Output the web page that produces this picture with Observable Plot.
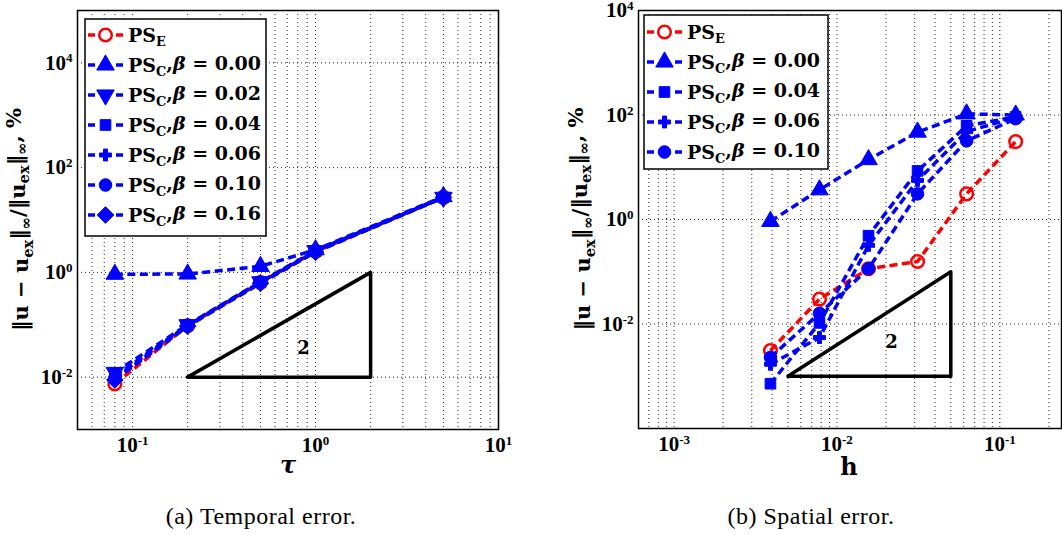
<!DOCTYPE html>
<html><head><meta charset="utf-8">
<script src="https://cdn.jsdelivr.net/npm/d3@7"></script>
<script src="https://cdn.jsdelivr.net/npm/@observablehq/plot@0.6"></script>
<style>
body{margin:0;background:#fff;}
#wrap{position:relative;width:1062px;height:534px;overflow:hidden;background:#fff;}
.panel{position:absolute;top:0;}
.cap{position:absolute;font-family:"Liberation Serif",serif;font-size:24px;letter-spacing:0.5px;text-align:center;width:400px;line-height:24px;color:#000;}
</style></head><body>
<div id="wrap">
  <div class="panel" id="pa" style="left:0px"></div>
  <div class="panel" id="pb" style="left:530px"></div>
  <div class="cap" style="left:61px;top:504px">(a) Temporal error.</div>
  <div class="cap" style="left:611px;top:504px">(b) Spatial error.</div>
</div>
<script>
// ---------- data: panel (a) temporal error ----------
const tau      = [0.08, 0.2, 0.5, 1, 5];
const tPSE     = [0.0074, 0.096, 0.64, 2.5, 27];
const tB000    = [0.92, 0.93, 1.3, 2.7, 28];
const tB002    = [0.0123, 0.10, 0.66, 2.6, 27];
const tB004    = [0.0105, 0.098, 0.65, 2.55, 27];
const tB006    = [0.0098, 0.097, 0.64, 2.5, 27];
const tB010    = [0.0092, 0.095, 0.63, 2.5, 27];
const tB016    = [0.0088, 0.094, 0.62, 2.45, 27];
const betasA   = ["0.00", "0.02", "0.04", "0.06", "0.10", "0.16"];
const triA_x   = [0.2, 2, 2, 0.2];
const triA_y   = [0.01, 0.01, 1, 0.01];
const slopeA   = [{x: 0.86, y: 0.035, t: "2"}];

// ---------- data: panel (b) spatial error ----------
const hh       = [0.00390625, 0.0078125, 0.015625, 0.03125, 0.0625, 0.125];
const hPSE     = [0.0031, 0.030, 0.114, 0.157, 3.1, 31];
const hB000    = [0.92, 3.7, 14, 47, 105, 100];
const hB004    = [0.00072, 0.0105, 0.49, 8.5, 62, 92];
const hB006    = [0.0017, 0.0055, 0.32, 5.6, 48, 90];
const hB010    = [0.0023, 0.016, 0.114, 3.1, 32, 85];
const betasB   = ["0.00", "0.04", "0.06", "0.10"];
const triB_x   = [0.005, 0.05, 0.05, 0.005];
const triB_y   = [0.001, 0.001, 0.1, 0.001];
const slopeB   = [{x: 0.0216, y: 0.0045, t: "2"}];

// ---------- ticks / grid ----------
const xTicksA = [0.1, 1, 10];
const xGridA  = [0.06,0.07,0.08,0.09,0.1,0.2,0.3,0.4,0.5,0.6,0.7,0.8,0.9,1,2,3,4,5,6,7,8,9];
const yTicksA = [0.01, 1, 100, 10000];
const xTicksB = [0.001, 0.01, 0.1];
const xGridB  = [0.0007,0.0008,0.0009,0.001,0.002,0.003,0.004,0.005,0.006,0.007,0.008,0.009,0.01,0.02,0.03,0.04,0.05,0.06,0.07,0.08,0.09,0.1,0.2];
const yTicksB = [0.01, 1, 100, 10000];

// ---------- styles ----------
const BLUE = "#0000ff", RED = "#ff0000";
const triDown = {draw(ctx, size){
  const p = {moveTo:(x,y)=>ctx.moveTo(x,-y), lineTo:(x,y)=>ctx.lineTo(x,-y), closePath:()=>ctx.closePath()};
  d3.symbolTriangle.draw(p, size);
}};
const ST = {
  pse:  {color: RED,  symbol: d3.symbolCircle,   fill: "none", r: 6.3, sw: 2.5},
  b000: {color: BLUE, symbol: d3.symbolTriangle, fill: BLUE, r: 6.5, sw: 1},
  b002: {color: BLUE, symbol: triDown,           fill: BLUE, r: 6.5, sw: 1},
  b004: {color: BLUE, symbol: d3.symbolSquare,   fill: BLUE, r: 6.0, sw: 1},
  b006: {color: BLUE, symbol: d3.symbolCross,    fill: BLUE, r: 5.0, sw: 1},
  b010: {color: BLUE, symbol: d3.symbolCircle,   fill: BLUE, r: 6.3, sw: 1},
  b016: {color: BLUE, symbol: d3.symbolDiamond2, fill: BLUE, r: 7.5, sw: 1}
};

const seriesA = [
  {ys: tPSE, st: ST.pse,  sub: "E"},
  {ys: tB000, st: ST.b000, sub: "C", beta: betasA[0]},
  {ys: tB002, st: ST.b002, sub: "C", beta: betasA[1]},
  {ys: tB004, st: ST.b004, sub: "C", beta: betasA[2]},
  {ys: tB006, st: ST.b006, sub: "C", beta: betasA[3]},
  {ys: tB010, st: ST.b010, sub: "C", beta: betasA[4]},
  {ys: tB016, st: ST.b016, sub: "C", beta: betasA[5]}
];
const seriesB = [
  {ys: hPSE, st: ST.pse,  sub: "E"},
  {ys: hB000, st: ST.b000, sub: "C", beta: betasB[0]},
  {ys: hB004, st: ST.b004, sub: "C", beta: betasB[1]},
  {ys: hB006, st: ST.b006, sub: "C", beta: betasB[2]},
  {ys: hB010, st: ST.b010, sub: "C", beta: betasB[3]}
];

const fmt = d => "10^" + Math.round(Math.log10(d));
const gridStyle = {stroke: "#000", strokeDasharray: "1,3", strokeWidth: 1, strokeOpacity: 0.85};

function seriesMarks(xs, series){
  const out = [];
  for (const s of series){
    const pts = xs.map((x,i)=>({x, y: s.ys[i]}));
    out.push(Plot.line(pts, {x:"x", y:"y", stroke: s.st.color, strokeWidth: 3.5, strokeDasharray: "8,4.5", strokeLinecap: "butt"}));
    out.push(Plot.dot(pts, {x:"x", y:"y", symbol: s.st.symbol, r: s.st.r, fill: s.st.fill, stroke: s.st.color, strokeWidth: s.st.sw}));
  }
  return out;
}

function supTicks(svg){
  d3.select(svg).selectAll('g[aria-label$="tick label"] text').each(function(){
    const m = /^10\^(-?\d+)$/.exec(this.textContent);
    if (!m) return;
    const t = d3.select(this)
      .style("font-size", "21px").style("font-family", "'Liberation Serif', serif").style("font-weight", "bold");
    t.text(null);
    t.append("tspan").text("10");
    t.append("tspan").attr("dy","-0.55em").style("font-size","13px").text(m[1]);
  });
}

function legend(svg, x0, y0, w, hgt, row0, series){
  const g = d3.select(svg).append("g").attr("text-anchor","start");
  g.append("rect").attr("x",x0).attr("y",y0).attr("width",w).attr("height",hgt)
    .attr("fill","white").attr("stroke","black").attr("stroke-width",1.5);
  series.forEach((s,i)=>{
    const y = row0 + i*30;
    for (const [a,b] of [[3,10],[31,38]])
      g.append("line").attr("x1",x0+a).attr("x2",x0+b).attr("y1",y).attr("y2",y)
        .attr("stroke",s.st.color).attr("stroke-width",3.5);
    g.append("path").attr("transform",`translate(${x0+20.5},${y})`)
      .attr("d", d3.symbol(s.st.symbol, s.st.r*s.st.r*Math.PI)())
      .attr("fill", s.st.fill).attr("stroke", s.st.color).attr("stroke-width", s.st.sw);
    const t = g.append("text").attr("x",x0+43).attr("y",y).attr("dy","0.36em").attr("text-anchor","start")
      .attr("font-family","DejaVu Serif, serif").attr("font-weight","bold").attr("font-size","19px").attr("fill","black");
    t.append("tspan").text("PS");
    t.append("tspan").attr("dy","0.3em").attr("font-size","0.68em").text(s.sub);
    if (s.beta){
      t.append("tspan").attr("dy","-0.3em").text(",");
      t.append("tspan").attr("font-style","italic").text("β");
      t.append("tspan").text(" = " + s.beta);
    }
  });
}

function ylabel(svg, cx, cy){
  const t = d3.select(svg).append("text")
    .attr("transform",`translate(${cx},${cy}) rotate(-90)`).attr("text-anchor","middle").attr("dy","0.35em")
    .attr("font-family","DejaVu Serif, serif").attr("font-weight","bold").attr("font-size","21px").attr("fill","black");
  t.append("tspan").text("‖u − u");
  t.append("tspan").attr("dy","0.3em").attr("font-size","0.7em").text("ex");
  t.append("tspan").attr("dy","-0.3em").text("‖");
  t.append("tspan").attr("dy","0.3em").attr("font-size","0.7em").text("∞");
  t.append("tspan").attr("dy","-0.3em").text("/‖u");
  t.append("tspan").attr("dy","0.3em").attr("font-size","0.7em").text("ex");
  t.append("tspan").attr("dy","-0.3em").text("‖");
  t.append("tspan").attr("dy","0.3em").attr("font-size","0.7em").text("∞");
  t.append("tspan").attr("dy","-0.3em").text(", %");
}
function xlabel(svg, cx, cy, txt, italic){
  d3.select(svg).append("text").attr("x",cx).attr("y",cy).attr("text-anchor","middle")
    .attr("font-family","DejaVu Serif, serif").attr("font-weight","bold").attr("font-size","24px")
    .attr("font-style", italic ? "italic" : "normal").attr("fill","black").text(txt);
}

const baseStyle = {fontFamily: "Liberation Serif, serif", fontSize: "18px", fontWeight: "bold", background: "white", color: "black", overflow: "visible"};

// ---------- panel (a) ----------
const A = Plot.plot({
  width: 530, height: 480, marginLeft: 77, marginRight: 32, marginTop: 10, marginBottom: 51,
  style: baseStyle,
  x: {type: "log", domain: [0.05, 10]},
  y: {type: "log", domain: [1e-3, 1e5]},
  marks: [
    Plot.ruleX(xGridA, gridStyle),
    Plot.ruleY(yTicksA, gridStyle),
    Plot.axisX({ticks: xTicksA, tickFormat: fmt, tickSize: 0, tickPadding: 8, label: null}),
    Plot.axisY({ticks: yTicksA, tickFormat: fmt, tickSize: 0, tickPadding: 5, label: null}),
    Plot.line(triA_x.map((x,i)=>({x, y: triA_y[i]})), {x:"x", y:"y", stroke:"black", strokeWidth: 3.5}),
    Plot.text(slopeA, {x:"x", y:"y", text:"t", fontSize: 18, fontWeight: "bold", fontFamily: "DejaVu Serif, serif"}),
    ...seriesMarks(tau, seriesA),
    Plot.frame({stroke: "black", strokeWidth: 1.5})
  ]
});
supTicks(A);
legend(A, 85, 19, 181, 217, 35, seriesA);
ylabel(A, 21, 219.5);
xlabel(A, 288, 473, "τ", true);
document.getElementById("pa").appendChild(A);

// ---------- panel (b) ----------
const B = Plot.plot({
  width: 532, height: 480, marginLeft: 108, marginRight: 1, marginTop: 10, marginBottom: 52,
  style: baseStyle,
  x: {type: "log", domain: [6.05e-4, 0.239]},
  y: {type: "log", domain: [1e-4, 1e4]},
  marks: [
    Plot.ruleX(xGridB, gridStyle),
    Plot.ruleY(yTicksB, gridStyle),
    Plot.axisX({ticks: xTicksB, tickFormat: fmt, tickSize: 0, tickPadding: 8, label: null}),
    Plot.axisY({ticks: yTicksB, tickFormat: fmt, tickSize: 0, tickPadding: 5, label: null}),
    Plot.line(triB_x.map((x,i)=>({x, y: triB_y[i]})), {x:"x", y:"y", stroke:"black", strokeWidth: 3.5}),
    Plot.text(slopeB, {x:"x", y:"y", text:"t", fontSize: 18, fontWeight: "bold", fontFamily: "DejaVu Serif, serif"}),
    ...seriesMarks(hh, seriesB),
    Plot.frame({stroke: "black", strokeWidth: 1.5})
  ]
});
supTicks(B);
legend(B, 114, 15, 184, 154, 32, seriesB);
ylabel(B, 53, 219);
xlabel(B, 319, 475, "h", false);
document.getElementById("pb").appendChild(B);
</script>
</body></html>
